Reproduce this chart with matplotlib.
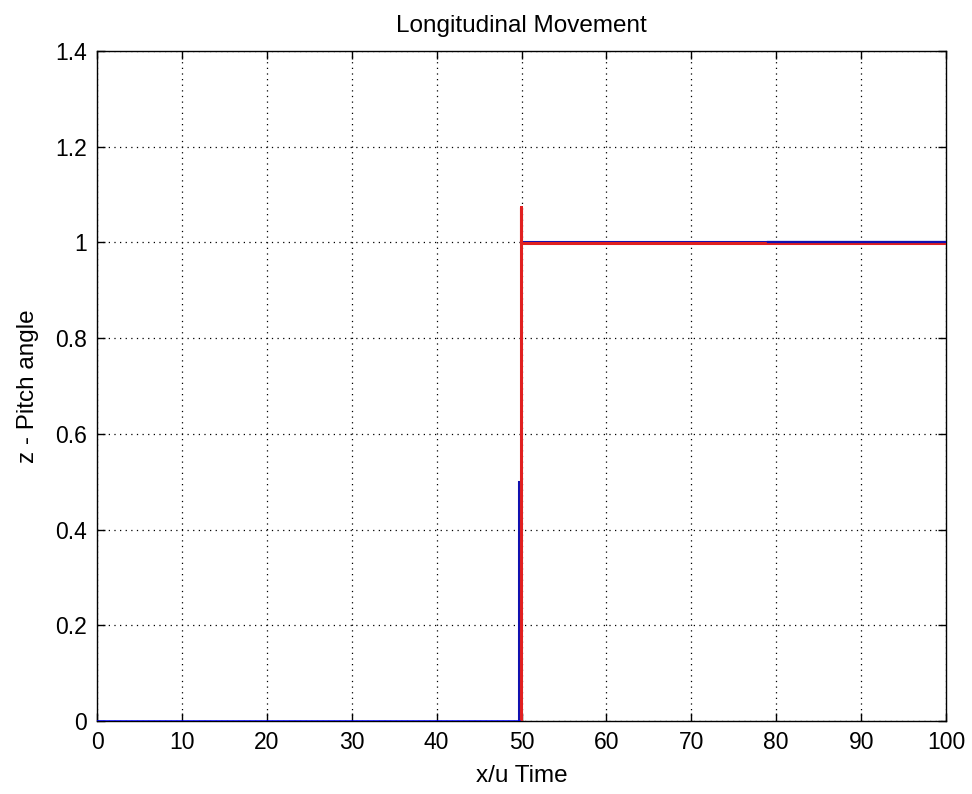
import matplotlib
matplotlib.use("Agg")
import matplotlib.pyplot as plt

# data
blue_x = [0, 49.65, 49.65, 49.9, 100]
blue_y = [0, 0, 0.5, 1.0, 1.0]
blue_top_x = [79, 100]
blue_top_y = [1.0, 1.0]
red_x = [49.9, 49.9, 49.9, 100]
red_y = [0, 1.074, 0.999, 0.999]

xticks = [0, 10, 20, 30, 40, 50, 60, 70, 80, 90, 100]
yticks = [0, 0.2, 0.4, 0.6, 0.8, 1.0, 1.2, 1.4]
yticklabels = ["0", "0.2", "0.4", "0.6", "0.8", "1", "1.2", "1.4"]

plt.rcParams['font.family'] = ['Liberation Sans', 'DejaVu Sans']
fig = plt.figure(figsize=(9.72, 7.94), dpi=100)
ax = fig.add_axes([0.0998, 0.0919, 0.8735, 0.8439])

ax.plot(blue_x[:2], blue_y[:2], color='#0000ff', lw=1.8, zorder=4)
ax.plot(blue_x[1:3], blue_y[1:3], color='#1010b0', lw=2.2, zorder=3)
ax.plot(blue_x[3:], blue_y[3:], color='#1010b0', lw=1.5, zorder=2)
ax.plot(red_x, red_y, color='#e02020', lw=2.2, zorder=3)
ax.plot(blue_top_x, blue_top_y, color='#1010b0', lw=1.6, zorder=5)

ax.set_xlim(0, 100)
ax.set_ylim(0, 1.4)
ax.set_xticks(xticks)
ax.set_yticks(yticks)
ax.set_yticklabels(yticklabels)
ax.grid(True, color='black', linestyle=(0, (1, 3.5)), linewidth=0.9)
ax.tick_params(direction='in', top=True, right=True, labelsize=16.5, length=6, width=1, pad=7)
for s in ax.spines.values():
    s.set_linewidth(1.0)
ax.set_title("Longitudinal Movement", fontsize=17.5, pad=14)
ax.set_xlabel("x/u Time", fontsize=17.5, labelpad=8)
ax.set_ylabel("z - Pitch angle", fontsize=17.5, labelpad=12)

fig.savefig("out.png", dpi=100)
